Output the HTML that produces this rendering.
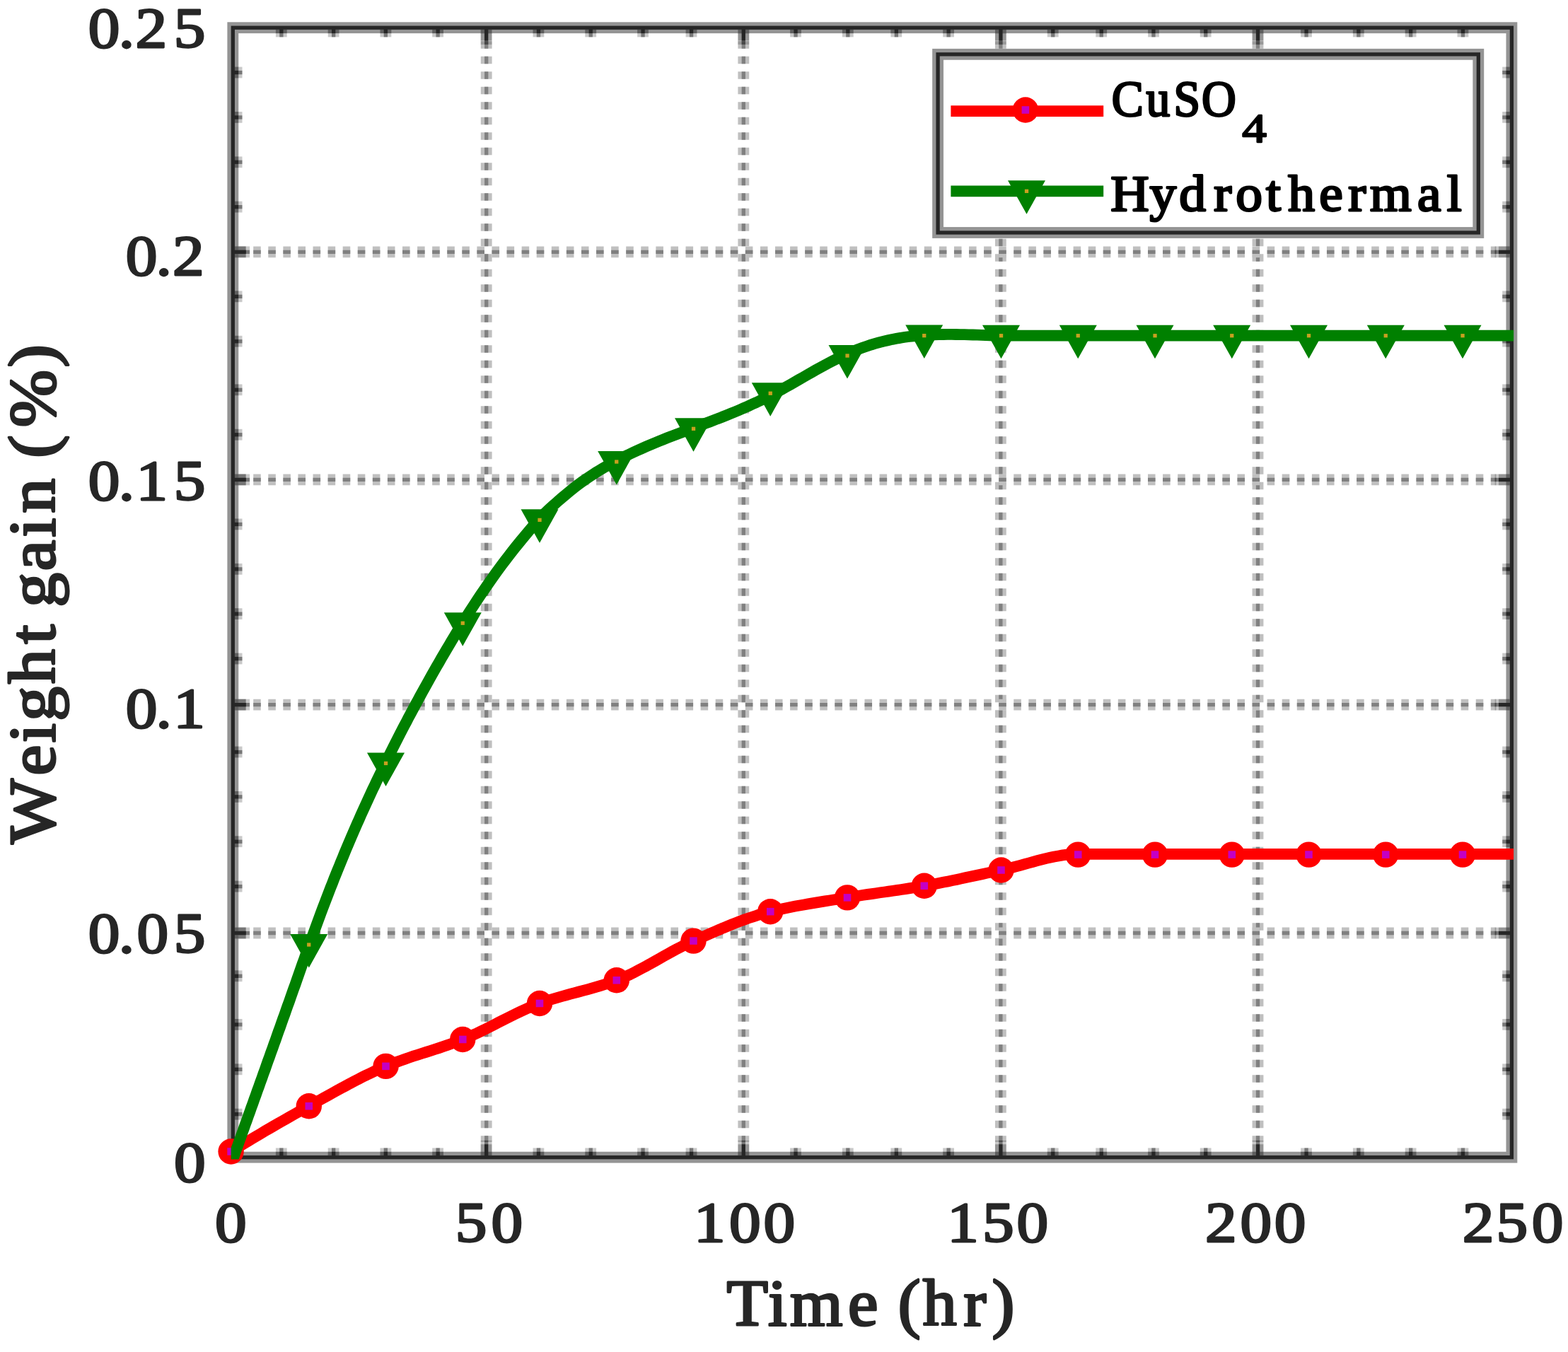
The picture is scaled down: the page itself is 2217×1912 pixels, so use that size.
<!DOCTYPE html>
<html lang="en">
<head>
<meta charset="utf-8">
<title>Weight gain vs. time</title>
<style>
html,body{margin:0;padding:0;background:#fff;}
body{width:2217px;height:1912px;overflow:hidden;}
svg{display:block;}
svg text{font-family:"Liberation Serif","DejaVu Serif",serif;font-weight:normal;font-kerning:none;white-space:pre;stroke-linejoin:round;}
</style>
</head>
<body>
<svg width="2217" height="1912" viewBox="0 0 2217 1912">
<rect x="0" y="0" width="2217" height="1912" fill="#ffffff"/>
<g id="grid">
<line x1="687.7" y1="39.2" x2="687.7" y2="1614.7" stroke="#c0c0c0" stroke-width="15.84" stroke-dasharray="10.56 10.94" stroke-dashoffset="-40.6"/>
<line x1="687.7" y1="39.2" x2="687.7" y2="1614.7" stroke="#808080" stroke-width="5.28" stroke-dasharray="10.56 10.94" stroke-dashoffset="-40.6"/>
<line x1="1051.3" y1="39.2" x2="1051.3" y2="1614.7" stroke="#c0c0c0" stroke-width="15.84" stroke-dasharray="10.56 10.94" stroke-dashoffset="-40.6"/>
<line x1="1051.3" y1="39.2" x2="1051.3" y2="1614.7" stroke="#808080" stroke-width="5.28" stroke-dasharray="10.56 10.94" stroke-dashoffset="-40.6"/>
<line x1="1414.9" y1="39.2" x2="1414.9" y2="1614.7" stroke="#c0c0c0" stroke-width="15.84" stroke-dasharray="10.56 10.94" stroke-dashoffset="-40.6"/>
<line x1="1414.9" y1="39.2" x2="1414.9" y2="1614.7" stroke="#808080" stroke-width="5.28" stroke-dasharray="10.56 10.94" stroke-dashoffset="-40.6"/>
<line x1="1778.5" y1="39.2" x2="1778.5" y2="1614.7" stroke="#c0c0c0" stroke-width="15.84" stroke-dasharray="10.56 10.94" stroke-dashoffset="-40.6"/>
<line x1="1778.5" y1="39.2" x2="1778.5" y2="1614.7" stroke="#808080" stroke-width="5.28" stroke-dasharray="10.56 10.94" stroke-dashoffset="-40.6"/>
<line x1="329.3" y1="1319.5" x2="2115.4" y2="1319.5" stroke="#c0c0c0" stroke-width="15.84" stroke-dasharray="10.56 10.52" stroke-dashoffset="-28.9"/>
<line x1="329.3" y1="1319.5" x2="2115.4" y2="1319.5" stroke="#808080" stroke-width="5.28" stroke-dasharray="10.56 10.52" stroke-dashoffset="-28.9"/>
<line x1="329.3" y1="996.6" x2="2115.4" y2="996.6" stroke="#c0c0c0" stroke-width="15.84" stroke-dasharray="10.56 10.52" stroke-dashoffset="-28.9"/>
<line x1="329.3" y1="996.6" x2="2115.4" y2="996.6" stroke="#808080" stroke-width="5.28" stroke-dasharray="10.56 10.52" stroke-dashoffset="-28.9"/>
<line x1="329.3" y1="678.4" x2="2115.4" y2="678.4" stroke="#c0c0c0" stroke-width="15.84" stroke-dasharray="10.56 10.52" stroke-dashoffset="-28.9"/>
<line x1="329.3" y1="678.4" x2="2115.4" y2="678.4" stroke="#808080" stroke-width="5.28" stroke-dasharray="10.56 10.52" stroke-dashoffset="-28.9"/>
<line x1="329.3" y1="356.3" x2="2115.4" y2="356.3" stroke="#c0c0c0" stroke-width="15.84" stroke-dasharray="10.56 10.52" stroke-dashoffset="-28.9"/>
<line x1="329.3" y1="356.3" x2="2115.4" y2="356.3" stroke="#808080" stroke-width="5.28" stroke-dasharray="10.56 10.52" stroke-dashoffset="-28.9"/>
</g>
<rect x="329.3" y="39.2" width="1808.1" height="1597.5" fill="none" stroke="#949494" stroke-width="15.84"/>
<rect x="329.3" y="39.2" width="1808.1" height="1597.5" fill="none" stroke="#262626" stroke-width="5.28"/>
<g id="ticks" fill="#262626">
<rect x="389.9" y="41.8" width="15.8" height="5.3" opacity="0.49"/>
<rect x="389.9" y="47.1" width="15.8" height="5.3" opacity="0.25"/>
<rect x="395.2" y="39.2" width="5.3" height="7.9" opacity="1.0"/>
<rect x="395.2" y="47.1" width="5.3" height="5.3" opacity="0.5"/>
<rect x="389.9" y="1628.8" width="15.8" height="5.3" opacity="0.49"/>
<rect x="389.9" y="1623.5" width="15.8" height="5.3" opacity="0.25"/>
<rect x="395.2" y="1628.8" width="5.3" height="7.9" opacity="1.0"/>
<rect x="395.2" y="1623.5" width="5.3" height="5.3" opacity="0.5"/>
<rect x="463.7" y="41.8" width="15.8" height="5.3" opacity="0.49"/>
<rect x="463.7" y="47.1" width="15.8" height="5.3" opacity="0.25"/>
<rect x="469.0" y="39.2" width="5.3" height="7.9" opacity="1.0"/>
<rect x="469.0" y="47.1" width="5.3" height="5.3" opacity="0.5"/>
<rect x="463.7" y="1628.8" width="15.8" height="5.3" opacity="0.49"/>
<rect x="463.7" y="1623.5" width="15.8" height="5.3" opacity="0.25"/>
<rect x="469.0" y="1628.8" width="5.3" height="7.9" opacity="1.0"/>
<rect x="469.0" y="1623.5" width="5.3" height="5.3" opacity="0.5"/>
<rect x="537.5" y="41.8" width="15.8" height="5.3" opacity="0.49"/>
<rect x="537.5" y="47.1" width="15.8" height="5.3" opacity="0.25"/>
<rect x="542.7" y="39.2" width="5.3" height="7.9" opacity="1.0"/>
<rect x="542.7" y="47.1" width="5.3" height="5.3" opacity="0.5"/>
<rect x="537.5" y="1628.8" width="15.8" height="5.3" opacity="0.49"/>
<rect x="537.5" y="1623.5" width="15.8" height="5.3" opacity="0.25"/>
<rect x="542.7" y="1628.8" width="5.3" height="7.9" opacity="1.0"/>
<rect x="542.7" y="1623.5" width="5.3" height="5.3" opacity="0.5"/>
<rect x="611.2" y="41.8" width="15.8" height="5.3" opacity="0.49"/>
<rect x="611.2" y="47.1" width="15.8" height="5.3" opacity="0.25"/>
<rect x="616.5" y="39.2" width="5.3" height="7.9" opacity="1.0"/>
<rect x="616.5" y="47.1" width="5.3" height="5.3" opacity="0.5"/>
<rect x="611.2" y="1628.8" width="15.8" height="5.3" opacity="0.49"/>
<rect x="611.2" y="1623.5" width="15.8" height="5.3" opacity="0.25"/>
<rect x="616.5" y="1628.8" width="5.3" height="7.9" opacity="1.0"/>
<rect x="616.5" y="1623.5" width="5.3" height="5.3" opacity="0.5"/>
<rect x="679.7" y="41.8" width="15.8" height="15.8" opacity="0.49"/>
<rect x="679.7" y="57.7" width="15.8" height="5.3" opacity="0.25"/>
<rect x="685.0" y="39.2" width="5.3" height="18.5" opacity="1.0"/>
<rect x="685.0" y="57.7" width="5.3" height="5.3" opacity="0.5"/>
<rect x="679.7" y="1618.2" width="15.8" height="15.8" opacity="0.49"/>
<rect x="679.7" y="1612.9" width="15.8" height="5.3" opacity="0.25"/>
<rect x="685.0" y="1618.2" width="5.3" height="18.5" opacity="1.0"/>
<rect x="685.0" y="1612.9" width="5.3" height="5.3" opacity="0.5"/>
<rect x="753.5" y="41.8" width="15.8" height="5.3" opacity="0.49"/>
<rect x="753.5" y="47.1" width="15.8" height="5.3" opacity="0.25"/>
<rect x="758.8" y="39.2" width="5.3" height="7.9" opacity="1.0"/>
<rect x="758.8" y="47.1" width="5.3" height="5.3" opacity="0.5"/>
<rect x="753.5" y="1628.8" width="15.8" height="5.3" opacity="0.49"/>
<rect x="753.5" y="1623.5" width="15.8" height="5.3" opacity="0.25"/>
<rect x="758.8" y="1628.8" width="5.3" height="7.9" opacity="1.0"/>
<rect x="758.8" y="1623.5" width="5.3" height="5.3" opacity="0.5"/>
<rect x="827.3" y="41.8" width="15.8" height="5.3" opacity="0.49"/>
<rect x="827.3" y="47.1" width="15.8" height="5.3" opacity="0.25"/>
<rect x="832.6" y="39.2" width="5.3" height="7.9" opacity="1.0"/>
<rect x="832.6" y="47.1" width="5.3" height="5.3" opacity="0.5"/>
<rect x="827.3" y="1628.8" width="15.8" height="5.3" opacity="0.49"/>
<rect x="827.3" y="1623.5" width="15.8" height="5.3" opacity="0.25"/>
<rect x="832.6" y="1628.8" width="5.3" height="7.9" opacity="1.0"/>
<rect x="832.6" y="1623.5" width="5.3" height="5.3" opacity="0.5"/>
<rect x="901.1" y="41.8" width="15.8" height="5.3" opacity="0.49"/>
<rect x="901.1" y="47.1" width="15.8" height="5.3" opacity="0.25"/>
<rect x="906.4" y="39.2" width="5.3" height="7.9" opacity="1.0"/>
<rect x="906.4" y="47.1" width="5.3" height="5.3" opacity="0.5"/>
<rect x="901.1" y="1628.8" width="15.8" height="5.3" opacity="0.49"/>
<rect x="901.1" y="1623.5" width="15.8" height="5.3" opacity="0.25"/>
<rect x="906.4" y="1628.8" width="5.3" height="7.9" opacity="1.0"/>
<rect x="906.4" y="1623.5" width="5.3" height="5.3" opacity="0.5"/>
<rect x="969.6" y="41.8" width="15.8" height="5.3" opacity="0.49"/>
<rect x="969.6" y="47.1" width="15.8" height="5.3" opacity="0.25"/>
<rect x="974.9" y="39.2" width="5.3" height="7.9" opacity="1.0"/>
<rect x="974.9" y="47.1" width="5.3" height="5.3" opacity="0.5"/>
<rect x="969.6" y="1628.8" width="15.8" height="5.3" opacity="0.49"/>
<rect x="969.6" y="1623.5" width="15.8" height="5.3" opacity="0.25"/>
<rect x="974.9" y="1628.8" width="5.3" height="7.9" opacity="1.0"/>
<rect x="974.9" y="1623.5" width="5.3" height="5.3" opacity="0.5"/>
<rect x="1043.4" y="41.8" width="15.8" height="15.8" opacity="0.49"/>
<rect x="1043.4" y="57.7" width="15.8" height="5.3" opacity="0.25"/>
<rect x="1048.6" y="39.2" width="5.3" height="18.5" opacity="1.0"/>
<rect x="1048.6" y="57.7" width="5.3" height="5.3" opacity="0.5"/>
<rect x="1043.4" y="1618.2" width="15.8" height="15.8" opacity="0.49"/>
<rect x="1043.4" y="1612.9" width="15.8" height="5.3" opacity="0.25"/>
<rect x="1048.6" y="1618.2" width="5.3" height="18.5" opacity="1.0"/>
<rect x="1048.6" y="1612.9" width="5.3" height="5.3" opacity="0.5"/>
<rect x="1117.1" y="41.8" width="15.8" height="5.3" opacity="0.49"/>
<rect x="1117.1" y="47.1" width="15.8" height="5.3" opacity="0.25"/>
<rect x="1122.4" y="39.2" width="5.3" height="7.9" opacity="1.0"/>
<rect x="1122.4" y="47.1" width="5.3" height="5.3" opacity="0.5"/>
<rect x="1117.1" y="1628.8" width="15.8" height="5.3" opacity="0.49"/>
<rect x="1117.1" y="1623.5" width="15.8" height="5.3" opacity="0.25"/>
<rect x="1122.4" y="1628.8" width="5.3" height="7.9" opacity="1.0"/>
<rect x="1122.4" y="1623.5" width="5.3" height="5.3" opacity="0.5"/>
<rect x="1190.9" y="41.8" width="15.8" height="5.3" opacity="0.49"/>
<rect x="1190.9" y="47.1" width="15.8" height="5.3" opacity="0.25"/>
<rect x="1196.2" y="39.2" width="5.3" height="7.9" opacity="1.0"/>
<rect x="1196.2" y="47.1" width="5.3" height="5.3" opacity="0.5"/>
<rect x="1190.9" y="1628.8" width="15.8" height="5.3" opacity="0.49"/>
<rect x="1190.9" y="1623.5" width="15.8" height="5.3" opacity="0.25"/>
<rect x="1196.2" y="1628.8" width="5.3" height="7.9" opacity="1.0"/>
<rect x="1196.2" y="1623.5" width="5.3" height="5.3" opacity="0.5"/>
<rect x="1259.4" y="41.8" width="15.8" height="5.3" opacity="0.49"/>
<rect x="1259.4" y="47.1" width="15.8" height="5.3" opacity="0.25"/>
<rect x="1264.7" y="39.2" width="5.3" height="7.9" opacity="1.0"/>
<rect x="1264.7" y="47.1" width="5.3" height="5.3" opacity="0.5"/>
<rect x="1259.4" y="1628.8" width="15.8" height="5.3" opacity="0.49"/>
<rect x="1259.4" y="1623.5" width="15.8" height="5.3" opacity="0.25"/>
<rect x="1264.7" y="1628.8" width="5.3" height="7.9" opacity="1.0"/>
<rect x="1264.7" y="1623.5" width="5.3" height="5.3" opacity="0.5"/>
<rect x="1333.2" y="41.8" width="15.8" height="5.3" opacity="0.49"/>
<rect x="1333.2" y="47.1" width="15.8" height="5.3" opacity="0.25"/>
<rect x="1338.5" y="39.2" width="5.3" height="7.9" opacity="1.0"/>
<rect x="1338.5" y="47.1" width="5.3" height="5.3" opacity="0.5"/>
<rect x="1333.2" y="1628.8" width="15.8" height="5.3" opacity="0.49"/>
<rect x="1333.2" y="1623.5" width="15.8" height="5.3" opacity="0.25"/>
<rect x="1338.5" y="1628.8" width="5.3" height="7.9" opacity="1.0"/>
<rect x="1338.5" y="1623.5" width="5.3" height="5.3" opacity="0.5"/>
<rect x="1407.0" y="41.8" width="15.8" height="15.8" opacity="0.49"/>
<rect x="1407.0" y="57.7" width="15.8" height="5.3" opacity="0.25"/>
<rect x="1412.3" y="39.2" width="5.3" height="18.5" opacity="1.0"/>
<rect x="1412.3" y="57.7" width="5.3" height="5.3" opacity="0.5"/>
<rect x="1407.0" y="1618.2" width="15.8" height="15.8" opacity="0.49"/>
<rect x="1407.0" y="1612.9" width="15.8" height="5.3" opacity="0.25"/>
<rect x="1412.3" y="1618.2" width="5.3" height="18.5" opacity="1.0"/>
<rect x="1412.3" y="1612.9" width="5.3" height="5.3" opacity="0.5"/>
<rect x="1480.8" y="41.8" width="15.8" height="5.3" opacity="0.49"/>
<rect x="1480.8" y="47.1" width="15.8" height="5.3" opacity="0.25"/>
<rect x="1486.1" y="39.2" width="5.3" height="7.9" opacity="1.0"/>
<rect x="1486.1" y="47.1" width="5.3" height="5.3" opacity="0.5"/>
<rect x="1480.8" y="1628.8" width="15.8" height="5.3" opacity="0.49"/>
<rect x="1480.8" y="1623.5" width="15.8" height="5.3" opacity="0.25"/>
<rect x="1486.1" y="1628.8" width="5.3" height="7.9" opacity="1.0"/>
<rect x="1486.1" y="1623.5" width="5.3" height="5.3" opacity="0.5"/>
<rect x="1549.3" y="41.8" width="15.8" height="5.3" opacity="0.49"/>
<rect x="1549.3" y="47.1" width="15.8" height="5.3" opacity="0.25"/>
<rect x="1554.6" y="39.2" width="5.3" height="7.9" opacity="1.0"/>
<rect x="1554.6" y="47.1" width="5.3" height="5.3" opacity="0.5"/>
<rect x="1549.3" y="1628.8" width="15.8" height="5.3" opacity="0.49"/>
<rect x="1549.3" y="1623.5" width="15.8" height="5.3" opacity="0.25"/>
<rect x="1554.6" y="1628.8" width="5.3" height="7.9" opacity="1.0"/>
<rect x="1554.6" y="1623.5" width="5.3" height="5.3" opacity="0.5"/>
<rect x="1623.1" y="41.8" width="15.8" height="5.3" opacity="0.49"/>
<rect x="1623.1" y="47.1" width="15.8" height="5.3" opacity="0.25"/>
<rect x="1628.3" y="39.2" width="5.3" height="7.9" opacity="1.0"/>
<rect x="1628.3" y="47.1" width="5.3" height="5.3" opacity="0.5"/>
<rect x="1623.1" y="1628.8" width="15.8" height="5.3" opacity="0.49"/>
<rect x="1623.1" y="1623.5" width="15.8" height="5.3" opacity="0.25"/>
<rect x="1628.3" y="1628.8" width="5.3" height="7.9" opacity="1.0"/>
<rect x="1628.3" y="1623.5" width="5.3" height="5.3" opacity="0.5"/>
<rect x="1696.8" y="41.8" width="15.8" height="5.3" opacity="0.49"/>
<rect x="1696.8" y="47.1" width="15.8" height="5.3" opacity="0.25"/>
<rect x="1702.1" y="39.2" width="5.3" height="7.9" opacity="1.0"/>
<rect x="1702.1" y="47.1" width="5.3" height="5.3" opacity="0.5"/>
<rect x="1696.8" y="1628.8" width="15.8" height="5.3" opacity="0.49"/>
<rect x="1696.8" y="1623.5" width="15.8" height="5.3" opacity="0.25"/>
<rect x="1702.1" y="1628.8" width="5.3" height="7.9" opacity="1.0"/>
<rect x="1702.1" y="1623.5" width="5.3" height="5.3" opacity="0.5"/>
<rect x="1770.6" y="41.8" width="15.8" height="15.8" opacity="0.49"/>
<rect x="1770.6" y="57.7" width="15.8" height="5.3" opacity="0.25"/>
<rect x="1775.9" y="39.2" width="5.3" height="18.5" opacity="1.0"/>
<rect x="1775.9" y="57.7" width="5.3" height="5.3" opacity="0.5"/>
<rect x="1770.6" y="1618.2" width="15.8" height="15.8" opacity="0.49"/>
<rect x="1770.6" y="1612.9" width="15.8" height="5.3" opacity="0.25"/>
<rect x="1775.9" y="1618.2" width="5.3" height="18.5" opacity="1.0"/>
<rect x="1775.9" y="1612.9" width="5.3" height="5.3" opacity="0.5"/>
<rect x="1839.1" y="41.8" width="15.8" height="5.3" opacity="0.49"/>
<rect x="1839.1" y="47.1" width="15.8" height="5.3" opacity="0.25"/>
<rect x="1844.4" y="39.2" width="5.3" height="7.9" opacity="1.0"/>
<rect x="1844.4" y="47.1" width="5.3" height="5.3" opacity="0.5"/>
<rect x="1839.1" y="1628.8" width="15.8" height="5.3" opacity="0.49"/>
<rect x="1839.1" y="1623.5" width="15.8" height="5.3" opacity="0.25"/>
<rect x="1844.4" y="1628.8" width="5.3" height="7.9" opacity="1.0"/>
<rect x="1844.4" y="1623.5" width="5.3" height="5.3" opacity="0.5"/>
<rect x="1912.9" y="41.8" width="15.8" height="5.3" opacity="0.49"/>
<rect x="1912.9" y="47.1" width="15.8" height="5.3" opacity="0.25"/>
<rect x="1918.2" y="39.2" width="5.3" height="7.9" opacity="1.0"/>
<rect x="1918.2" y="47.1" width="5.3" height="5.3" opacity="0.5"/>
<rect x="1912.9" y="1628.8" width="15.8" height="5.3" opacity="0.49"/>
<rect x="1912.9" y="1623.5" width="15.8" height="5.3" opacity="0.25"/>
<rect x="1918.2" y="1628.8" width="5.3" height="7.9" opacity="1.0"/>
<rect x="1918.2" y="1623.5" width="5.3" height="5.3" opacity="0.5"/>
<rect x="1986.7" y="41.8" width="15.8" height="5.3" opacity="0.49"/>
<rect x="1986.7" y="47.1" width="15.8" height="5.3" opacity="0.25"/>
<rect x="1992.0" y="39.2" width="5.3" height="7.9" opacity="1.0"/>
<rect x="1992.0" y="47.1" width="5.3" height="5.3" opacity="0.5"/>
<rect x="1986.7" y="1628.8" width="15.8" height="5.3" opacity="0.49"/>
<rect x="1986.7" y="1623.5" width="15.8" height="5.3" opacity="0.25"/>
<rect x="1992.0" y="1628.8" width="5.3" height="7.9" opacity="1.0"/>
<rect x="1992.0" y="1623.5" width="5.3" height="5.3" opacity="0.5"/>
<rect x="2060.5" y="41.8" width="15.8" height="5.3" opacity="0.49"/>
<rect x="2060.5" y="47.1" width="15.8" height="5.3" opacity="0.25"/>
<rect x="2065.8" y="39.2" width="5.3" height="7.9" opacity="1.0"/>
<rect x="2065.8" y="47.1" width="5.3" height="5.3" opacity="0.5"/>
<rect x="2060.5" y="1628.8" width="15.8" height="5.3" opacity="0.49"/>
<rect x="2060.5" y="1623.5" width="15.8" height="5.3" opacity="0.25"/>
<rect x="2065.8" y="1628.8" width="5.3" height="7.9" opacity="1.0"/>
<rect x="2065.8" y="1623.5" width="5.3" height="5.3" opacity="0.5"/>
<rect x="331.9" y="1567.8" width="5.3" height="15.8" opacity="0.49"/>
<rect x="337.2" y="1567.8" width="5.3" height="15.8" opacity="0.25"/>
<rect x="329.3" y="1573.0" width="7.9" height="5.3" opacity="1.0"/>
<rect x="337.2" y="1573.0" width="5.3" height="5.3" opacity="0.5"/>
<rect x="2129.5" y="1567.8" width="5.3" height="15.8" opacity="0.49"/>
<rect x="2124.2" y="1567.8" width="5.3" height="15.8" opacity="0.25"/>
<rect x="2129.5" y="1573.0" width="7.9" height="5.3" opacity="1.0"/>
<rect x="2124.2" y="1573.0" width="5.3" height="5.3" opacity="0.5"/>
<rect x="331.9" y="1504.4" width="5.3" height="15.8" opacity="0.49"/>
<rect x="337.2" y="1504.4" width="5.3" height="15.8" opacity="0.25"/>
<rect x="329.3" y="1509.7" width="7.9" height="5.3" opacity="1.0"/>
<rect x="337.2" y="1509.7" width="5.3" height="5.3" opacity="0.5"/>
<rect x="2129.5" y="1504.4" width="5.3" height="15.8" opacity="0.49"/>
<rect x="2124.2" y="1504.4" width="5.3" height="15.8" opacity="0.25"/>
<rect x="2129.5" y="1509.7" width="7.9" height="5.3" opacity="1.0"/>
<rect x="2124.2" y="1509.7" width="5.3" height="5.3" opacity="0.5"/>
<rect x="331.9" y="1441.0" width="5.3" height="15.8" opacity="0.49"/>
<rect x="337.2" y="1441.0" width="5.3" height="15.8" opacity="0.25"/>
<rect x="329.3" y="1446.3" width="7.9" height="5.3" opacity="1.0"/>
<rect x="337.2" y="1446.3" width="5.3" height="5.3" opacity="0.5"/>
<rect x="2129.5" y="1441.0" width="5.3" height="15.8" opacity="0.49"/>
<rect x="2124.2" y="1441.0" width="5.3" height="15.8" opacity="0.25"/>
<rect x="2129.5" y="1446.3" width="7.9" height="5.3" opacity="1.0"/>
<rect x="2124.2" y="1446.3" width="5.3" height="5.3" opacity="0.5"/>
<rect x="331.9" y="1372.4" width="5.3" height="15.8" opacity="0.49"/>
<rect x="337.2" y="1372.4" width="5.3" height="15.8" opacity="0.25"/>
<rect x="329.3" y="1377.7" width="7.9" height="5.3" opacity="1.0"/>
<rect x="337.2" y="1377.7" width="5.3" height="5.3" opacity="0.5"/>
<rect x="2129.5" y="1372.4" width="5.3" height="15.8" opacity="0.49"/>
<rect x="2124.2" y="1372.4" width="5.3" height="15.8" opacity="0.25"/>
<rect x="2129.5" y="1377.7" width="7.9" height="5.3" opacity="1.0"/>
<rect x="2124.2" y="1377.7" width="5.3" height="5.3" opacity="0.5"/>
<rect x="331.9" y="1311.6" width="15.8" height="15.8" opacity="0.49"/>
<rect x="347.8" y="1311.6" width="5.3" height="15.8" opacity="0.25"/>
<rect x="329.3" y="1316.9" width="18.5" height="5.3" opacity="1.0"/>
<rect x="347.8" y="1316.9" width="5.3" height="5.3" opacity="0.5"/>
<rect x="2118.9" y="1311.6" width="15.8" height="15.8" opacity="0.49"/>
<rect x="2113.6" y="1311.6" width="5.3" height="15.8" opacity="0.25"/>
<rect x="2118.9" y="1316.9" width="18.5" height="5.3" opacity="1.0"/>
<rect x="2113.6" y="1316.9" width="5.3" height="5.3" opacity="0.5"/>
<rect x="331.9" y="1245.7" width="5.3" height="15.8" opacity="0.49"/>
<rect x="337.2" y="1245.7" width="5.3" height="15.8" opacity="0.25"/>
<rect x="329.3" y="1251.0" width="7.9" height="5.3" opacity="1.0"/>
<rect x="337.2" y="1251.0" width="5.3" height="5.3" opacity="0.5"/>
<rect x="2129.5" y="1245.7" width="5.3" height="15.8" opacity="0.49"/>
<rect x="2124.2" y="1245.7" width="5.3" height="15.8" opacity="0.25"/>
<rect x="2129.5" y="1251.0" width="7.9" height="5.3" opacity="1.0"/>
<rect x="2124.2" y="1251.0" width="5.3" height="5.3" opacity="0.5"/>
<rect x="331.9" y="1182.3" width="5.3" height="15.8" opacity="0.49"/>
<rect x="337.2" y="1182.3" width="5.3" height="15.8" opacity="0.25"/>
<rect x="329.3" y="1187.6" width="7.9" height="5.3" opacity="1.0"/>
<rect x="337.2" y="1187.6" width="5.3" height="5.3" opacity="0.5"/>
<rect x="2129.5" y="1182.3" width="5.3" height="15.8" opacity="0.49"/>
<rect x="2124.2" y="1182.3" width="5.3" height="15.8" opacity="0.25"/>
<rect x="2129.5" y="1187.6" width="7.9" height="5.3" opacity="1.0"/>
<rect x="2124.2" y="1187.6" width="5.3" height="5.3" opacity="0.5"/>
<rect x="331.9" y="1119.0" width="5.3" height="15.8" opacity="0.49"/>
<rect x="337.2" y="1119.0" width="5.3" height="15.8" opacity="0.25"/>
<rect x="329.3" y="1124.2" width="7.9" height="5.3" opacity="1.0"/>
<rect x="337.2" y="1124.2" width="5.3" height="5.3" opacity="0.5"/>
<rect x="2129.5" y="1119.0" width="5.3" height="15.8" opacity="0.49"/>
<rect x="2124.2" y="1119.0" width="5.3" height="15.8" opacity="0.25"/>
<rect x="2129.5" y="1124.2" width="7.9" height="5.3" opacity="1.0"/>
<rect x="2124.2" y="1124.2" width="5.3" height="5.3" opacity="0.5"/>
<rect x="331.9" y="1055.6" width="5.3" height="15.8" opacity="0.49"/>
<rect x="337.2" y="1055.6" width="5.3" height="15.8" opacity="0.25"/>
<rect x="329.3" y="1060.9" width="7.9" height="5.3" opacity="1.0"/>
<rect x="337.2" y="1060.9" width="5.3" height="5.3" opacity="0.5"/>
<rect x="2129.5" y="1055.6" width="5.3" height="15.8" opacity="0.49"/>
<rect x="2124.2" y="1055.6" width="5.3" height="15.8" opacity="0.25"/>
<rect x="2129.5" y="1060.9" width="7.9" height="5.3" opacity="1.0"/>
<rect x="2124.2" y="1060.9" width="5.3" height="5.3" opacity="0.5"/>
<rect x="331.9" y="988.7" width="15.8" height="15.8" opacity="0.49"/>
<rect x="347.8" y="988.7" width="5.3" height="15.8" opacity="0.25"/>
<rect x="329.3" y="994.0" width="18.5" height="5.3" opacity="1.0"/>
<rect x="347.8" y="994.0" width="5.3" height="5.3" opacity="0.5"/>
<rect x="2118.9" y="988.7" width="15.8" height="15.8" opacity="0.49"/>
<rect x="2113.6" y="988.7" width="5.3" height="15.8" opacity="0.25"/>
<rect x="2118.9" y="994.0" width="18.5" height="5.3" opacity="1.0"/>
<rect x="2113.6" y="994.0" width="5.3" height="5.3" opacity="0.5"/>
<rect x="331.9" y="923.6" width="5.3" height="15.8" opacity="0.49"/>
<rect x="337.2" y="923.6" width="5.3" height="15.8" opacity="0.25"/>
<rect x="329.3" y="928.9" width="7.9" height="5.3" opacity="1.0"/>
<rect x="337.2" y="928.9" width="5.3" height="5.3" opacity="0.5"/>
<rect x="2129.5" y="923.6" width="5.3" height="15.8" opacity="0.49"/>
<rect x="2124.2" y="923.6" width="5.3" height="15.8" opacity="0.25"/>
<rect x="2129.5" y="928.9" width="7.9" height="5.3" opacity="1.0"/>
<rect x="2124.2" y="928.9" width="5.3" height="5.3" opacity="0.5"/>
<rect x="331.9" y="860.2" width="5.3" height="15.8" opacity="0.49"/>
<rect x="337.2" y="860.2" width="5.3" height="15.8" opacity="0.25"/>
<rect x="329.3" y="865.5" width="7.9" height="5.3" opacity="1.0"/>
<rect x="337.2" y="865.5" width="5.3" height="5.3" opacity="0.5"/>
<rect x="2129.5" y="860.2" width="5.3" height="15.8" opacity="0.49"/>
<rect x="2124.2" y="860.2" width="5.3" height="15.8" opacity="0.25"/>
<rect x="2129.5" y="865.5" width="7.9" height="5.3" opacity="1.0"/>
<rect x="2124.2" y="865.5" width="5.3" height="5.3" opacity="0.5"/>
<rect x="331.9" y="796.9" width="5.3" height="15.8" opacity="0.49"/>
<rect x="337.2" y="796.9" width="5.3" height="15.8" opacity="0.25"/>
<rect x="329.3" y="802.2" width="7.9" height="5.3" opacity="1.0"/>
<rect x="337.2" y="802.2" width="5.3" height="5.3" opacity="0.5"/>
<rect x="2129.5" y="796.9" width="5.3" height="15.8" opacity="0.49"/>
<rect x="2124.2" y="796.9" width="5.3" height="15.8" opacity="0.25"/>
<rect x="2129.5" y="802.2" width="7.9" height="5.3" opacity="1.0"/>
<rect x="2124.2" y="802.2" width="5.3" height="5.3" opacity="0.5"/>
<rect x="331.9" y="733.5" width="5.3" height="15.8" opacity="0.49"/>
<rect x="337.2" y="733.5" width="5.3" height="15.8" opacity="0.25"/>
<rect x="329.3" y="738.8" width="7.9" height="5.3" opacity="1.0"/>
<rect x="337.2" y="738.8" width="5.3" height="5.3" opacity="0.5"/>
<rect x="2129.5" y="733.5" width="5.3" height="15.8" opacity="0.49"/>
<rect x="2124.2" y="733.5" width="5.3" height="15.8" opacity="0.25"/>
<rect x="2129.5" y="738.8" width="7.9" height="5.3" opacity="1.0"/>
<rect x="2124.2" y="738.8" width="5.3" height="5.3" opacity="0.5"/>
<rect x="331.9" y="670.5" width="15.8" height="15.8" opacity="0.49"/>
<rect x="347.8" y="670.5" width="5.3" height="15.8" opacity="0.25"/>
<rect x="329.3" y="675.8" width="18.5" height="5.3" opacity="1.0"/>
<rect x="347.8" y="675.8" width="5.3" height="5.3" opacity="0.5"/>
<rect x="2118.9" y="670.5" width="15.8" height="15.8" opacity="0.49"/>
<rect x="2113.6" y="670.5" width="5.3" height="15.8" opacity="0.25"/>
<rect x="2118.9" y="675.8" width="18.5" height="5.3" opacity="1.0"/>
<rect x="2113.6" y="675.8" width="5.3" height="5.3" opacity="0.5"/>
<rect x="331.9" y="606.8" width="5.3" height="15.8" opacity="0.49"/>
<rect x="337.2" y="606.8" width="5.3" height="15.8" opacity="0.25"/>
<rect x="329.3" y="612.1" width="7.9" height="5.3" opacity="1.0"/>
<rect x="337.2" y="612.1" width="5.3" height="5.3" opacity="0.5"/>
<rect x="2129.5" y="606.8" width="5.3" height="15.8" opacity="0.49"/>
<rect x="2124.2" y="606.8" width="5.3" height="15.8" opacity="0.25"/>
<rect x="2129.5" y="612.1" width="7.9" height="5.3" opacity="1.0"/>
<rect x="2124.2" y="612.1" width="5.3" height="5.3" opacity="0.5"/>
<rect x="331.9" y="543.4" width="5.3" height="15.8" opacity="0.49"/>
<rect x="337.2" y="543.4" width="5.3" height="15.8" opacity="0.25"/>
<rect x="329.3" y="548.7" width="7.9" height="5.3" opacity="1.0"/>
<rect x="337.2" y="548.7" width="5.3" height="5.3" opacity="0.5"/>
<rect x="2129.5" y="543.4" width="5.3" height="15.8" opacity="0.49"/>
<rect x="2124.2" y="543.4" width="5.3" height="15.8" opacity="0.25"/>
<rect x="2129.5" y="548.7" width="7.9" height="5.3" opacity="1.0"/>
<rect x="2124.2" y="548.7" width="5.3" height="5.3" opacity="0.5"/>
<rect x="331.9" y="474.8" width="5.3" height="15.8" opacity="0.49"/>
<rect x="337.2" y="474.8" width="5.3" height="15.8" opacity="0.25"/>
<rect x="329.3" y="480.1" width="7.9" height="5.3" opacity="1.0"/>
<rect x="337.2" y="480.1" width="5.3" height="5.3" opacity="0.5"/>
<rect x="2129.5" y="474.8" width="5.3" height="15.8" opacity="0.49"/>
<rect x="2124.2" y="474.8" width="5.3" height="15.8" opacity="0.25"/>
<rect x="2129.5" y="480.1" width="7.9" height="5.3" opacity="1.0"/>
<rect x="2124.2" y="480.1" width="5.3" height="5.3" opacity="0.5"/>
<rect x="331.9" y="411.4" width="5.3" height="15.8" opacity="0.49"/>
<rect x="337.2" y="411.4" width="5.3" height="15.8" opacity="0.25"/>
<rect x="329.3" y="416.7" width="7.9" height="5.3" opacity="1.0"/>
<rect x="337.2" y="416.7" width="5.3" height="5.3" opacity="0.5"/>
<rect x="2129.5" y="411.4" width="5.3" height="15.8" opacity="0.49"/>
<rect x="2124.2" y="411.4" width="5.3" height="15.8" opacity="0.25"/>
<rect x="2129.5" y="416.7" width="7.9" height="5.3" opacity="1.0"/>
<rect x="2124.2" y="416.7" width="5.3" height="5.3" opacity="0.5"/>
<rect x="331.9" y="348.4" width="15.8" height="15.8" opacity="0.49"/>
<rect x="347.8" y="348.4" width="5.3" height="15.8" opacity="0.25"/>
<rect x="329.3" y="353.7" width="18.5" height="5.3" opacity="1.0"/>
<rect x="347.8" y="353.7" width="5.3" height="5.3" opacity="0.5"/>
<rect x="2118.9" y="348.4" width="15.8" height="15.8" opacity="0.49"/>
<rect x="2113.6" y="348.4" width="5.3" height="15.8" opacity="0.25"/>
<rect x="2118.9" y="353.7" width="18.5" height="5.3" opacity="1.0"/>
<rect x="2113.6" y="353.7" width="5.3" height="5.3" opacity="0.5"/>
<rect x="331.9" y="284.7" width="5.3" height="15.8" opacity="0.49"/>
<rect x="337.2" y="284.7" width="5.3" height="15.8" opacity="0.25"/>
<rect x="329.3" y="290.0" width="7.9" height="5.3" opacity="1.0"/>
<rect x="337.2" y="290.0" width="5.3" height="5.3" opacity="0.5"/>
<rect x="2129.5" y="284.7" width="5.3" height="15.8" opacity="0.49"/>
<rect x="2124.2" y="284.7" width="5.3" height="15.8" opacity="0.25"/>
<rect x="2129.5" y="290.0" width="7.9" height="5.3" opacity="1.0"/>
<rect x="2124.2" y="290.0" width="5.3" height="5.3" opacity="0.5"/>
<rect x="331.9" y="221.4" width="5.3" height="15.8" opacity="0.49"/>
<rect x="337.2" y="221.4" width="5.3" height="15.8" opacity="0.25"/>
<rect x="329.3" y="226.6" width="7.9" height="5.3" opacity="1.0"/>
<rect x="337.2" y="226.6" width="5.3" height="5.3" opacity="0.5"/>
<rect x="2129.5" y="221.4" width="5.3" height="15.8" opacity="0.49"/>
<rect x="2124.2" y="221.4" width="5.3" height="15.8" opacity="0.25"/>
<rect x="2129.5" y="226.6" width="7.9" height="5.3" opacity="1.0"/>
<rect x="2124.2" y="226.6" width="5.3" height="5.3" opacity="0.5"/>
<rect x="331.9" y="158.0" width="5.3" height="15.8" opacity="0.49"/>
<rect x="337.2" y="158.0" width="5.3" height="15.8" opacity="0.25"/>
<rect x="329.3" y="163.3" width="7.9" height="5.3" opacity="1.0"/>
<rect x="337.2" y="163.3" width="5.3" height="5.3" opacity="0.5"/>
<rect x="2129.5" y="158.0" width="5.3" height="15.8" opacity="0.49"/>
<rect x="2124.2" y="158.0" width="5.3" height="15.8" opacity="0.25"/>
<rect x="2129.5" y="163.3" width="7.9" height="5.3" opacity="1.0"/>
<rect x="2124.2" y="163.3" width="5.3" height="5.3" opacity="0.5"/>
<rect x="331.9" y="94.6" width="5.3" height="15.8" opacity="0.49"/>
<rect x="337.2" y="94.6" width="5.3" height="15.8" opacity="0.25"/>
<rect x="329.3" y="99.9" width="7.9" height="5.3" opacity="1.0"/>
<rect x="337.2" y="99.9" width="5.3" height="5.3" opacity="0.5"/>
<rect x="2129.5" y="94.6" width="5.3" height="15.8" opacity="0.49"/>
<rect x="2124.2" y="94.6" width="5.3" height="15.8" opacity="0.25"/>
<rect x="2129.5" y="99.9" width="7.9" height="5.3" opacity="1.0"/>
<rect x="2124.2" y="99.9" width="5.3" height="5.3" opacity="0.5"/>
</g>
<defs><clipPath id="clip"><rect x="326.7" y="36.6" width="1813.4" height="1602.8"/></clipPath></defs>
<g id="red">
<polyline points="326.6,1628.5 332.6,1624.8 338.6,1621.2 344.6,1617.5 350.6,1613.9 356.6,1610.3 362.6,1606.7 368.6,1603.2 374.6,1599.6 380.6,1596.1 386.6,1592.6 392.6,1589.2 398.6,1585.7 404.6,1582.3 410.6,1578.9 416.6,1575.5 422.6,1572.1 428.6,1568.8 434.6,1565.5 440.6,1562.2 446.6,1558.9 452.6,1555.5 458.6,1552.2 464.6,1548.9 470.6,1545.5 476.6,1542.2 482.6,1538.9 488.6,1535.7 494.6,1532.4 500.6,1529.3 506.6,1526.2 512.6,1523.1 518.6,1520.1 524.6,1517.3 530.6,1514.4 536.6,1511.7 542.6,1509.1 548.6,1506.6 554.6,1504.2 560.6,1502.0 566.6,1499.8 572.6,1497.7 578.6,1495.6 584.6,1493.6 590.6,1491.7 596.6,1489.8 602.6,1487.9 608.6,1485.9 614.6,1484.0 620.6,1482.1 626.6,1480.1 632.6,1478.0 638.6,1475.9 644.6,1473.7 650.6,1471.4 656.6,1469.0 662.6,1466.5 668.6,1463.8 674.6,1461.1 680.6,1458.2 686.6,1455.2 692.6,1452.2 698.6,1449.2 704.6,1446.1 710.6,1443.0 716.6,1440.0 722.6,1437.0 728.6,1434.0 734.6,1431.1 740.6,1428.3 746.6,1425.6 752.6,1423.1 758.6,1420.7 764.6,1418.4 770.6,1416.3 776.6,1414.3 782.6,1412.5 788.6,1410.7 794.6,1409.0 800.6,1407.3 806.6,1405.7 812.6,1404.1 818.6,1402.5 824.6,1400.9 830.6,1399.3 836.6,1397.6 842.6,1395.9 848.6,1394.1 854.6,1392.3 860.6,1390.3 866.6,1388.2 872.6,1386.0 878.6,1383.6 884.6,1380.9 890.6,1378.2 896.6,1375.2 902.6,1372.1 908.6,1368.9 914.6,1365.7 920.6,1362.3 926.6,1359.0 932.6,1355.6 938.6,1352.2 944.6,1348.8 950.6,1345.5 956.6,1342.3 962.6,1339.2 968.6,1336.1 974.6,1333.3 980.6,1330.6 986.6,1327.9 992.6,1325.3 998.6,1322.7 1004.6,1320.0 1010.6,1317.4 1016.6,1314.9 1022.6,1312.3 1028.6,1309.9 1034.6,1307.4 1040.6,1305.0 1046.6,1302.7 1052.6,1300.5 1058.6,1298.4 1064.6,1296.4 1070.6,1294.4 1076.6,1292.6 1082.6,1290.9 1088.6,1289.4 1094.6,1287.9 1100.6,1286.5 1106.6,1285.2 1112.6,1284.0 1118.6,1282.8 1124.6,1281.6 1130.6,1280.5 1136.6,1279.4 1142.6,1278.4 1148.6,1277.4 1154.6,1276.4 1160.6,1275.4 1166.6,1274.4 1172.6,1273.5 1178.6,1272.5 1184.6,1271.6 1190.6,1270.6 1196.6,1269.6 1202.6,1268.6 1208.6,1267.7 1214.6,1266.8 1220.6,1265.8 1226.6,1264.9 1232.6,1264.1 1238.6,1263.2 1244.6,1262.3 1250.6,1261.5 1256.6,1260.6 1262.6,1259.7 1268.6,1258.9 1274.6,1258.0 1280.6,1257.1 1286.6,1256.1 1292.6,1255.2 1298.6,1254.2 1304.6,1253.2 1310.6,1252.1 1316.6,1251.0 1322.6,1249.9 1328.6,1248.7 1334.6,1247.6 1340.6,1246.4 1346.6,1245.1 1352.6,1243.9 1358.6,1242.6 1364.6,1241.3 1370.6,1240.1 1376.6,1238.8 1382.6,1237.5 1388.6,1236.2 1394.6,1234.9 1400.6,1233.6 1406.6,1232.4 1412.6,1231.1 1418.6,1229.8 1424.6,1228.5 1430.6,1227.0 1436.6,1225.4 1442.6,1223.8 1448.6,1222.2 1454.6,1220.5 1460.6,1218.8 1466.6,1217.2 1472.6,1215.6 1478.6,1214.1 1484.6,1212.8 1490.6,1211.5 1496.6,1210.4 1502.6,1209.4 1508.6,1208.7 1514.6,1208.1 1520.6,1207.9 1524.2,1207.8 2149.4,1207.8" fill="none" stroke="#ff0000" stroke-width="15.8" stroke-linejoin="round" clip-path="url(#clip)"/>
<circle cx="326.6" cy="1628.5" r="18.2" fill="#ff0000"/>
<rect x="321.3" y="1623.2" width="10.56" height="10.56" fill="#c400c4"/>
<circle cx="436.8" cy="1564.3" r="18.2" fill="#ff0000"/>
<rect x="431.5" y="1559.0" width="10.56" height="10.56" fill="#c400c4"/>
<circle cx="545.5" cy="1507.9" r="18.2" fill="#ff0000"/>
<rect x="540.2" y="1502.6" width="10.56" height="10.56" fill="#c400c4"/>
<circle cx="654.2" cy="1470.0" r="18.2" fill="#ff0000"/>
<rect x="649.0" y="1464.7" width="10.56" height="10.56" fill="#c400c4"/>
<circle cx="763.0" cy="1419.0" r="18.2" fill="#ff0000"/>
<rect x="757.7" y="1413.7" width="10.56" height="10.56" fill="#c400c4"/>
<circle cx="871.8" cy="1386.3" r="18.2" fill="#ff0000"/>
<rect x="866.5" y="1381.0" width="10.56" height="10.56" fill="#c400c4"/>
<circle cx="980.5" cy="1330.6" r="18.2" fill="#ff0000"/>
<rect x="975.2" y="1325.3" width="10.56" height="10.56" fill="#c400c4"/>
<circle cx="1089.2" cy="1289.2" r="18.2" fill="#ff0000"/>
<rect x="1084.0" y="1283.9" width="10.56" height="10.56" fill="#c400c4"/>
<circle cx="1198.0" cy="1269.4" r="18.2" fill="#ff0000"/>
<rect x="1192.7" y="1264.1" width="10.56" height="10.56" fill="#c400c4"/>
<circle cx="1306.8" cy="1252.8" r="18.2" fill="#ff0000"/>
<rect x="1301.5" y="1247.5" width="10.56" height="10.56" fill="#c400c4"/>
<circle cx="1415.5" cy="1230.5" r="18.2" fill="#ff0000"/>
<rect x="1410.2" y="1225.2" width="10.56" height="10.56" fill="#c400c4"/>
<circle cx="1524.2" cy="1208.6" r="18.2" fill="#ff0000"/>
<rect x="1519.0" y="1203.3" width="10.56" height="10.56" fill="#c400c4"/>
<circle cx="1633.0" cy="1208.6" r="18.2" fill="#ff0000"/>
<rect x="1627.7" y="1203.3" width="10.56" height="10.56" fill="#c400c4"/>
<circle cx="1741.8" cy="1208.6" r="18.2" fill="#ff0000"/>
<rect x="1736.5" y="1203.3" width="10.56" height="10.56" fill="#c400c4"/>
<circle cx="1850.5" cy="1208.6" r="18.2" fill="#ff0000"/>
<rect x="1845.2" y="1203.3" width="10.56" height="10.56" fill="#c400c4"/>
<circle cx="1959.2" cy="1208.6" r="18.2" fill="#ff0000"/>
<rect x="1954.0" y="1203.3" width="10.56" height="10.56" fill="#c400c4"/>
<circle cx="2068.0" cy="1208.6" r="18.2" fill="#ff0000"/>
<rect x="2062.7" y="1203.3" width="10.56" height="10.56" fill="#c400c4"/>
</g>
<g id="green">
<polyline points="325.2,1650.7 327.3,1644.7 329.5,1638.7 331.6,1632.7 333.7,1626.7 335.9,1620.7 338.0,1614.7 340.2,1608.7 342.3,1602.7 344.5,1596.7 346.6,1590.7 348.8,1584.7 350.9,1578.7 353.1,1572.7 355.2,1566.7 357.4,1560.7 359.5,1554.7 361.7,1548.7 363.8,1542.7 366.0,1536.7 368.1,1530.7 370.3,1524.7 372.4,1518.7 374.6,1512.7 376.7,1506.7 378.8,1500.7 381.0,1494.7 383.1,1488.7 385.3,1482.7 387.4,1476.7 389.6,1470.7 391.7,1464.7 393.8,1458.7 396.0,1452.7 398.1,1446.7 400.2,1440.7 402.4,1434.7 404.5,1428.7 406.6,1422.7 408.8,1416.7 410.9,1410.7 413.0,1404.7 415.1,1398.7 417.3,1392.7 419.4,1386.7 421.5,1380.7 423.6,1374.7 425.7,1368.7 427.8,1362.7 430.0,1356.7 432.1,1350.7 434.2,1344.7 436.4,1338.7 438.5,1332.7 440.7,1326.7 442.9,1320.7 445.1,1314.7 447.3,1308.7 449.5,1302.7 451.7,1296.7 453.9,1290.7 456.2,1284.7 458.5,1278.7 460.8,1272.7 463.1,1266.7 465.4,1260.7 467.7,1254.7 470.1,1248.7 472.4,1242.7 474.8,1236.7 477.2,1230.7 479.7,1224.7 482.1,1218.7 484.6,1212.7 487.0,1206.7 489.5,1200.7 492.1,1194.7 494.6,1188.7 497.2,1182.7 499.8,1176.7 502.4,1170.7 505.0,1164.7 507.7,1158.7 510.3,1152.7 513.0,1146.7 515.8,1140.7 518.5,1134.7 521.3,1128.7 524.0,1122.7 526.8,1116.7 529.7,1110.7 532.5,1104.7 535.4,1098.7 538.3,1092.7 541.2,1086.7 544.1,1080.7 547.0,1074.7 550.0,1068.7 553.0,1062.7 556.0,1056.7 559.1,1050.7 562.1,1044.7 565.2,1038.7 568.3,1032.7 571.4,1026.7 574.6,1020.7 577.7,1014.7 580.9,1008.7 584.1,1002.7 587.3,996.7 590.6,990.7 593.8,984.7 597.1,978.7 600.5,972.7 603.8,966.7 607.1,960.7 610.5,954.7 613.9,948.7 617.3,942.7 620.8,936.7 624.2,930.7 627.7,924.7 631.2,918.7 634.8,912.7 638.3,906.7 641.9,900.7 645.5,894.7 649.2,888.7 652.9,882.7 656.6,876.7 660.4,870.7 664.2,864.7 668.1,858.7 672.0,852.7 676.0,846.7 680.0,840.7 684.1,834.7 688.2,828.7 692.4,822.7 696.6,816.7 700.9,810.7 705.3,804.7 709.7,798.7 714.2,792.7 718.8,786.7 723.5,780.7 728.2,774.7 733.0,768.7 737.9,762.7 742.9,756.7 747.9,750.7 753.1,744.7 758.3,738.7 763.6,732.7 769.0,726.7 769.6,726.5 775.6,720.9 781.6,715.4 787.6,710.0 793.6,704.8 799.6,699.7 805.6,694.7 811.6,689.9 817.6,685.3 823.6,680.9 829.6,676.7 835.6,672.7 841.6,668.8 847.6,665.1 853.6,661.5 859.6,658.1 865.6,654.8 871.6,651.6 877.6,648.5 883.6,645.4 889.6,642.5 895.6,639.7 901.6,636.9 907.6,634.2 913.6,631.6 919.6,629.0 925.6,626.5 931.6,624.0 937.6,621.6 943.6,619.2 949.6,616.9 955.6,614.6 961.6,612.3 967.6,610.0 973.6,607.8 979.6,605.5 985.6,603.3 991.6,601.0 997.6,598.7 1003.6,596.5 1009.6,594.2 1015.6,591.8 1021.6,589.5 1027.6,587.1 1033.6,584.7 1039.6,582.2 1045.6,579.7 1051.6,577.1 1057.6,574.5 1063.6,571.7 1069.6,569.0 1075.6,566.1 1081.6,563.2 1087.6,560.1 1093.6,557.0 1099.6,553.8 1105.6,550.5 1111.6,547.2 1117.6,543.8 1123.6,540.4 1129.6,536.9 1135.6,533.5 1141.6,530.0 1147.6,526.6 1153.6,523.2 1159.6,519.9 1165.6,516.6 1171.6,513.4 1177.6,510.3 1183.6,507.2 1189.6,504.3 1195.6,501.5 1201.6,498.8 1207.6,496.3 1213.6,493.9 1219.6,491.7 1225.6,489.6 1231.6,487.6 1237.6,485.8 1243.6,484.1 1249.6,482.6 1255.6,481.2 1261.6,479.9 1267.6,478.8 1273.6,477.7 1279.6,476.8 1285.6,476.0 1291.6,475.3 1297.6,474.8 1303.6,474.3 1309.6,473.9 1315.6,473.5 1321.6,473.3 1327.6,473.1 1333.6,473.0 1339.6,472.9 1345.6,472.9 1351.6,473.0 1357.6,473.1 1363.6,473.2 1369.6,473.3 1375.6,473.5 1381.6,473.7 1387.6,473.9 1393.6,474.1 1399.6,474.3 1405.6,474.5 1411.6,474.7 1415.2,474.7 2149.4,474.7" fill="none" stroke="#008000" stroke-width="15.8" stroke-linejoin="round" clip-path="url(#clip)"/>
<polygon points="410.2,1321.0 463.2,1321.0 436.8,1368.5" fill="#008000"/>
<rect x="434.1" y="1333.4" width="5.28" height="5.28" fill="#c8a020"/>
<polygon points="519.0,1064.4 572.0,1064.4 545.5,1111.9" fill="#008000"/>
<rect x="542.9" y="1076.8" width="5.28" height="5.28" fill="#c8a020"/>
<polygon points="627.8,866.2 680.8,866.2 654.2,913.7" fill="#008000"/>
<rect x="651.6" y="878.6" width="5.28" height="5.28" fill="#c8a020"/>
<polygon points="736.5,720.3 789.5,720.3 763.0,767.8" fill="#008000"/>
<rect x="760.4" y="732.7" width="5.28" height="5.28" fill="#c8a020"/>
<polygon points="845.2,638.0 898.2,638.0 871.8,685.5" fill="#008000"/>
<rect x="869.1" y="650.4" width="5.28" height="5.28" fill="#c8a020"/>
<polygon points="954.0,591.3 1007.0,591.3 980.5,638.8" fill="#008000"/>
<rect x="977.9" y="603.7" width="5.28" height="5.28" fill="#c8a020"/>
<polygon points="1062.8,541.2 1115.8,541.2 1089.2,588.7" fill="#008000"/>
<rect x="1086.6" y="553.6" width="5.28" height="5.28" fill="#c8a020"/>
<polygon points="1171.5,488.0 1224.5,488.0 1198.0,535.5" fill="#008000"/>
<rect x="1195.4" y="500.4" width="5.28" height="5.28" fill="#c8a020"/>
<polygon points="1280.2,459.6 1333.2,459.6 1306.8,507.1" fill="#008000"/>
<rect x="1304.1" y="472.0" width="5.28" height="5.28" fill="#c8a020"/>
<polygon points="1389.0,459.7 1442.0,459.7 1415.5,507.2" fill="#008000"/>
<rect x="1412.9" y="472.1" width="5.28" height="5.28" fill="#c8a020"/>
<polygon points="1497.8,459.7 1550.8,459.7 1524.2,507.2" fill="#008000"/>
<rect x="1521.6" y="472.1" width="5.28" height="5.28" fill="#c8a020"/>
<polygon points="1606.5,459.7 1659.5,459.7 1633.0,507.2" fill="#008000"/>
<rect x="1630.4" y="472.1" width="5.28" height="5.28" fill="#c8a020"/>
<polygon points="1715.2,459.7 1768.2,459.7 1741.8,507.2" fill="#008000"/>
<rect x="1739.1" y="472.1" width="5.28" height="5.28" fill="#c8a020"/>
<polygon points="1824.0,459.7 1877.0,459.7 1850.5,507.2" fill="#008000"/>
<rect x="1847.9" y="472.1" width="5.28" height="5.28" fill="#c8a020"/>
<polygon points="1932.8,459.7 1985.8,459.7 1959.2,507.2" fill="#008000"/>
<rect x="1956.6" y="472.1" width="5.28" height="5.28" fill="#c8a020"/>
<polygon points="2041.5,459.7 2094.5,459.7 2068.0,507.2" fill="#008000"/>
<rect x="2065.4" y="472.1" width="5.28" height="5.28" fill="#c8a020"/>
</g>
<g id="legend">
<rect x="1326.1" y="76.8" width="764.2" height="252.2" fill="#ffffff" stroke="#949494" stroke-width="15.84"/>
<rect x="1326.1" y="76.8" width="764.2" height="252.2" fill="none" stroke="#262626" stroke-width="5.28"/>
<line x1="1344.4" y1="157.1" x2="1560.2" y2="157.1" stroke="#ff0000" stroke-width="15.8"/>
<circle cx="1449.9" cy="155.5" r="18.2" fill="#ff0000"/>
<rect x="1444.6" y="150.2" width="10.56" height="10.56" fill="#c400c4"/>
<line x1="1344.4" y1="270.3" x2="1560.2" y2="270.3" stroke="#008000" stroke-width="15.8"/>
<polygon points="1425.0,255.3 1478.0,255.3 1451.5,302.8" fill="#008000"/>
<rect x="1448.9" y="267.7" width="5.28" height="5.28" fill="#c8a020"/>
<text transform="translate(1573.60 164.05) scale(0.9300 1)" x="-1.9 50.5 92.5 134.8" font-size="72.66" fill="#000000" stroke="#000000" stroke-width="2.91">CuSO</text>
<text transform="translate(1756.31 201.14) scale(1.1931 1)" font-size="58.02" fill="#000000" stroke="#000000" stroke-width="2.32">4</text>
<text transform="translate(1571.10 298.08) scale(1.0600 1)" x="-0.9 51.3 90.8 136.9 166.2 206.5 236.1 277.5 316.3 345.2 408.3 447.8" font-size="71.22" fill="#000000" stroke="#000000" stroke-width="2.85">Hydrothermal</text>
</g>
<g id="labels">
<text transform="translate(305.40 1756.42) scale(1.1000 1)" x="-1.2" font-size="81.18" fill="#262626" stroke="#262626" stroke-width="2.76">0</text>
<text transform="translate(647.30 1756.42) scale(1.1000 1)" x="-3.2 43.0" font-size="81.18" fill="#262626" stroke="#262626" stroke-width="2.76">50</text>
<text transform="translate(985.70 1756.42) scale(1.1000 1)" x="-4.2 41.1 85.3" font-size="81.18" fill="#262626" stroke="#262626" stroke-width="2.76">100</text>
<text transform="translate(1343.80 1756.42) scale(1.1000 1)" x="-4.2 41.0 85.3" font-size="81.18" fill="#262626" stroke="#262626" stroke-width="2.76">150</text>
<text transform="translate(1707.00 1756.42) scale(1.1000 1)" x="-2.7 42.3 86.2" font-size="81.18" fill="#262626" stroke="#262626" stroke-width="2.76">200</text>
<text transform="translate(2070.50 1756.42) scale(1.1000 1)" x="-2.6 41.0 86.6" font-size="81.18" fill="#262626" stroke="#262626" stroke-width="2.76">250</text>
<text transform="translate(126.00 67.12) scale(1.1000 1)" x="-1.2 37.9 59.6 108.8" font-size="81.18" fill="#262626" stroke="#262626" stroke-width="2.76">0.25</text>
<text transform="translate(179.10 389.42) scale(1.1000 1)" x="-1.2 37.7 59.1" font-size="81.18" fill="#262626" stroke="#262626" stroke-width="2.76">0.2</text>
<text transform="translate(126.00 707.32) scale(1.1000 1)" x="-1.2 37.9 60.4 108.8" font-size="81.18" fill="#262626" stroke="#262626" stroke-width="2.76">0.15</text>
<text transform="translate(179.10 1029.42) scale(1.1000 1)" x="-1.2 37.7 60.1" font-size="81.18" fill="#262626" stroke="#262626" stroke-width="2.76">0.1</text>
<text transform="translate(126.00 1347.32) scale(1.1000 1)" x="-1.2 37.9 61.3 108.8" font-size="81.18" fill="#262626" stroke="#262626" stroke-width="2.76">0.05</text>
<text transform="translate(247.30 1670.52) scale(1.1000 1)" x="-1.2" font-size="81.18" fill="#262626" stroke="#262626" stroke-width="2.76">0</text>
<text transform="translate(1028.00 1874.42) scale(1.0300 1)" x="-0.4 56.3 86.3 165.9 207.2 234.6 268.7 324.8 363.7" font-size="92.89" fill="#262626" stroke="#262626" stroke-width="3.16">Time (hr)</text>
<text transform="translate(76.72 1192.80) rotate(-90) scale(1.0500 1)" x="-0.6 91.6 135.7 164.8 215.1 268.8 294.6 318.1 367.1 412.4 445.0 491.5 519.2 560.5 641.3" font-size="92.89" fill="#262626" stroke="#262626" stroke-width="3.16">Weight gain (%)</text>
</g>
</svg>
</body>
</html>
